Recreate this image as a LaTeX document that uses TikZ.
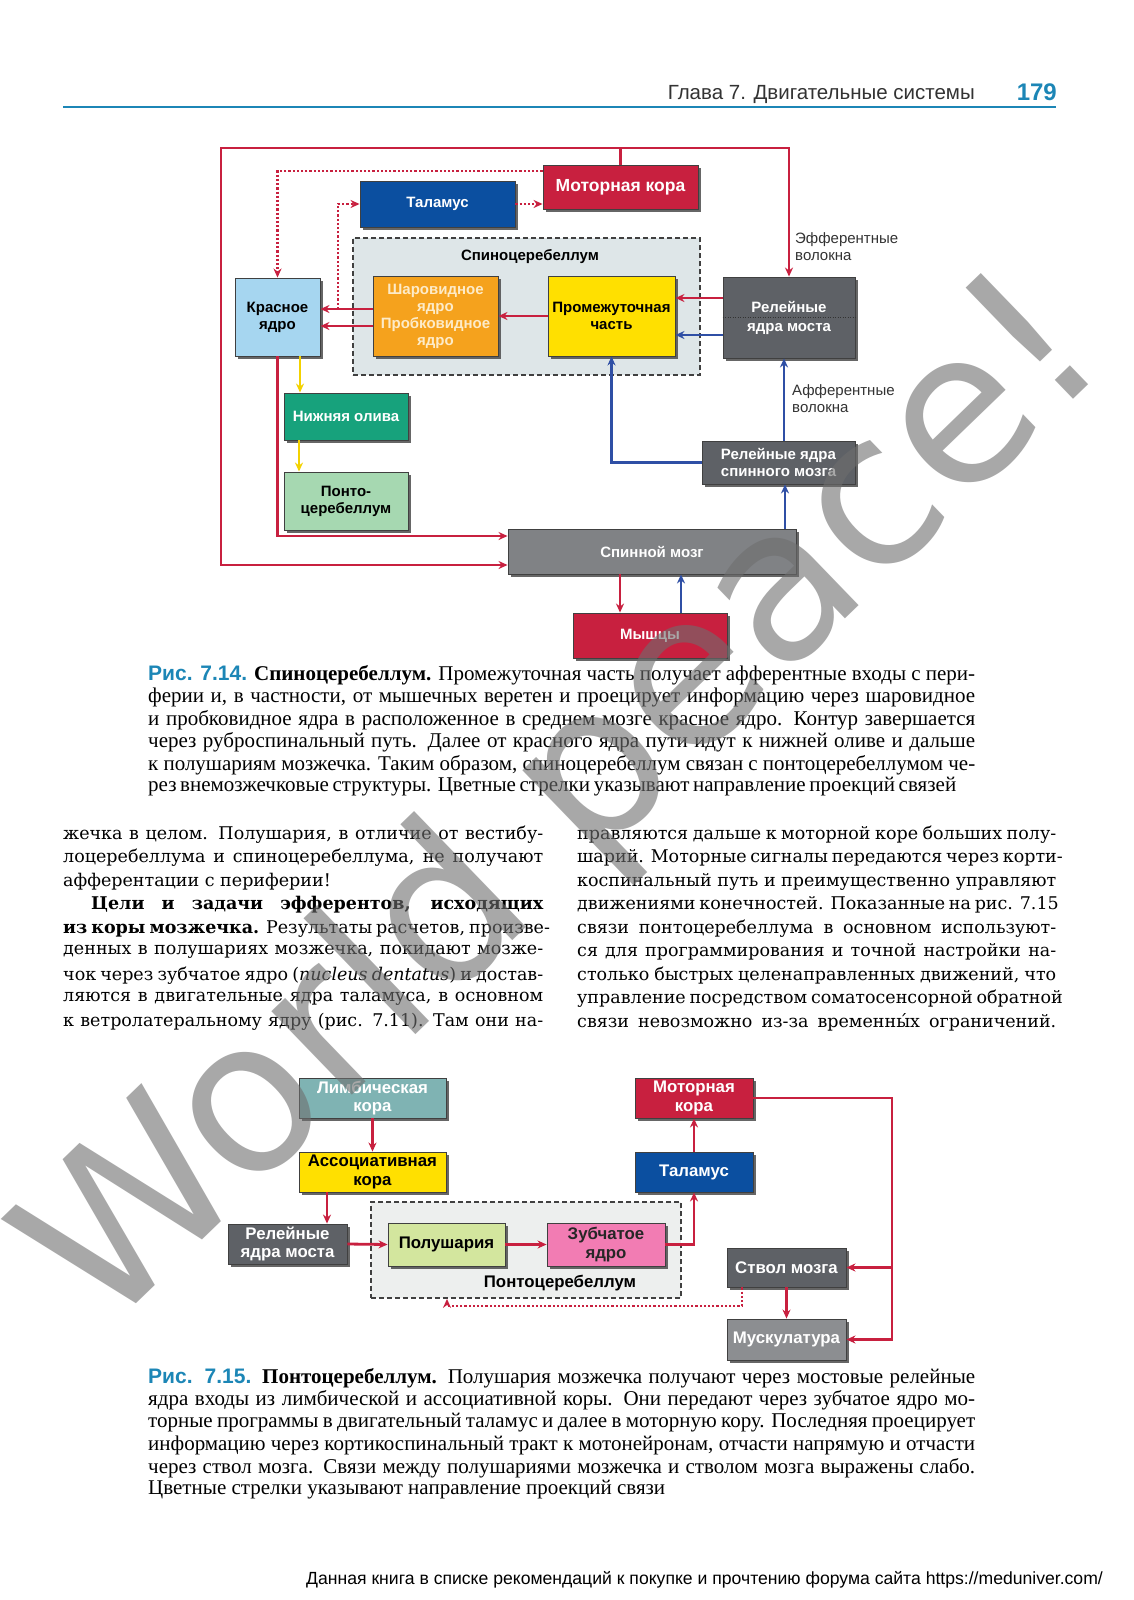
\documentclass[tikz,border=0pt]{standalone}
\usepackage{fontspec}
\setmainfont{Liberation Serif}
\newfontfamily\capfont{Liberation Serif}
\newfontfamily\bodyfont{DejaVu Serif}
\newfontfamily\sansf{Liberation Sans}
\newfontfamily\wmfont{DejaVu Sans}
\usetikzlibrary{arrows.meta,shadows}
\definecolor{cRed}{HTML}{C8203F}
\definecolor{cBlue}{HTML}{0B4FA0}
\definecolor{aBlue}{HTML}{2F4FA5}
\definecolor{cLBlue}{HTML}{A6D6F0}
\definecolor{cOrange}{HTML}{F5A21D}
\definecolor{cYellow}{HTML}{FFE000}
\definecolor{cDGray}{HTML}{5E6166}
\definecolor{cMGray}{HTML}{808285}
\definecolor{cLGray}{HTML}{8C8E91}
\definecolor{cTeal}{HTML}{17A27C}
\definecolor{cLGreen}{HTML}{A6D8B1}
\definecolor{cLim}{HTML}{7FB3B3}
\definecolor{cPol}{HTML}{D3E69E}
\definecolor{cPink}{HTML}{F27CB3}
\definecolor{cBoxA}{HTML}{DEE6E8}
\definecolor{cBoxB}{HTML}{EDEFEE}
\definecolor{cHead}{HTML}{1C86B6}
\definecolor{aYellow}{HTML}{F3D200}
\definecolor{cCream}{HTML}{FDEBC8}
\definecolor{wmgray}{RGB}{110,110,110}
\newcommand\capsz{\capfont\fontsize{21}{22}\selectfont}
\newcommand\bodysz{\bodyfont\fontsize{17.5}{23}\selectfont}
\newcommand\boxsz{\sansf\bfseries\fontsize{15}{17}\selectfont}
\newcommand\boxszb{\sansf\bfseries\fontsize{16.8}{18.5}\selectfont}
\begin{document}
\begin{tikzpicture}[x=1pt,y=-1pt,
  blk/.style={draw=black!75, line width=0.9pt, inner sep=0pt, align=center, font=\boxsz,
    drop shadow={shadow xshift=2.5pt, shadow yshift=-2.5pt, fill=black!70, opacity=0.85}},
  blkb/.style={blk, font=\boxszb},
  rl/.style={draw=cRed, line width=2.8pt},
  bl/.style={draw=aBlue, line width=2.8pt},
  yl/.style={draw=aYellow, line width=2.8pt},
  arr/.style={-{Stealth[length=9pt,width=8pt]}},
  dotl/.style={draw=cRed, line width=2.6pt, dash pattern=on 2.2pt off 2pt},
  grp/.style={draw=black!75, line width=1.8pt, dash pattern=on 5pt off 3pt, inner sep=0pt},
  capl/.style={anchor=west, inner sep=0pt, font=\capsz},
  bodl/.style={anchor=west, inner sep=0pt, font=\bodysz},
  lbl/.style={anchor=north west, inner sep=0pt, align=left, text=black!80, font=\sansf\fontsize{15}{17}\selectfont}
]
\useasboundingbox (0,0) rectangle (1133,1600);
\fill[white] (0,0) rectangle (1133,1600);

% ---------- header ----------
\node[anchor=east, inner sep=0pt, text=black!80, font=\sansf\fontsize{20.5}{21}\selectfont] (head) at (975,94) {Глава 7. Двигательные системы};
\node[anchor=east, inner sep=0pt, text=cHead, font=\sansf\bfseries\fontsize{24}{24}\selectfont] (pnum) at (1057,92) {179};
\draw[cHead, line width=1.2pt] (63,107) -- (1056,107);

% ---------- figure 7.14 ----------
\node[grp, fill=cBoxA, minimum width=347pt, minimum height=137pt] (spino) at (526.5,306.5) {};
\node[inner sep=0pt, font=\boxsz] (spinot) at (530,257) {Спиноцеребеллум};

\node[blk, fill=cRed, text=white, minimum width=155pt, minimum height=44pt, font=\sansf\bfseries\fontsize{17.5}{19}\selectfont] (MK) at (620.5,187) {Моторная кора};
\node[blk, fill=cBlue, text=white, minimum width=155pt, minimum height=46pt] (TH) at (437.5,204) {Таламус};
\node[blk, fill=cLBlue, text=black, minimum width=85pt, minimum height=78pt] (KR) at (277.5,317) {Красное\\ядро};
\node[blk, fill=cOrange, text=cCream, minimum width=125pt, minimum height=80pt] (SH) at (435.5,316) {Шаровидное\\ядро\\Пробковидное\\ядро};
\node[blk, fill=cYellow, text=black, minimum width=127pt, minimum height=80pt] (PR) at (611.5,316) {Промежуточная\\часть};
\node[blk, fill=cDGray, text=white, minimum width=132pt, minimum height=81pt] (RP) at (789,317.5) {Релейные\\[2pt]ядра моста};
\draw[black!80, line width=1pt, dash pattern=on 1pt off 1.5pt] (RP.west) -- (RP.east);
\node[blk, fill=cTeal, text=white, minimum width=124pt, minimum height=47pt] (NO) at (346,416.5) {Нижняя олива};
\node[blk, fill=cLGreen, text=black, minimum width=124pt, minimum height=58pt] (PC) at (346,501) {Понто-\\церебеллум};
\node[blk, fill=cDGray, text=white, minimum width=153pt, minimum height=43pt] (RSM) at (778.5,462.5) {Релейные ядра\\спинного мозга};
\node[blk, fill=cMGray, text=white, minimum width=288pt, minimum height=45pt] (SM) at (652,551.5) {Спинной мозг};
\node[blk, fill=cRed, text=white, minimum width=154pt, minimum height=45pt] (MY) at (650,635.5) {Мышцы};

\node[lbl] (eff) at (795,232) {Эфферентные\\волокна};
\node[lbl] (aff) at (792,384) {Афферентные\\волокна};

\coordinate (topL) at (221,148);
\draw[rl, arr] (MK.north) -- (MK.north |- topL) -| (RP.north);
\draw[rl, arr] (MK.north |- topL) -- (topL) |- (SM.west |- 0,565);
\draw[rl, arr] (KR.south) |- (SM.west |- 0,536);
\draw[yl, arr] (KR.south -| 300,0) -- (NO.north -| 300,0);
\draw[yl, arr] (NO.south -| 299,0) -- (PC.north -| 299,0);
\draw[rl, arr] (SH.west |- 0,309) -- (KR.east |- 0,309);
\draw[rl, arr] (SH.west |- 0,326) -- (KR.east |- 0,326);
\coordinate (dj) at (338,309);
\draw[dotl, arr] (dj) |- (TH.west);
\draw[dotl, arr] (TH.east) -- (MK.west |- TH.east);
\draw[dotl, arr] (MK.west |- 0,171) -| (KR.north);
\draw[rl, arr] (PR.west) -- (SH.east);
\draw[rl, arr] (RP.west |- 0,298) -- (PR.east |- 0,298);
\draw[bl, arr] (RP.west |- 0,335) -- (PR.east |- 0,335);
\draw[bl, arr] (RSM.north -| 784,0) -- (RP.south -| 784,0);
\draw[bl, arr] (RSM.west) -| (PR.south);
\draw[bl, arr] (SM.north -| 785,0) -- (RSM.south -| 785,0);
\draw[rl, arr] (SM.south -| 620,0) -- (MY.north -| 620,0);
\draw[bl, arr] (MY.north -| 681,0) -- (SM.south -| 681,0);

% ---------- caption 7.14 ----------
\node[capl] (c1a) at (148,675) {\makebox[827pt][s]{{\sansf\bfseries\color{cHead}Рис. 7.14.} {\bfseries Спиноцеребеллум.} Промежуточная часть получает афферентные входы с пери-}};
\node[capl] (c1b) at (148,697) {\makebox[827pt][s]{ферии и, в частности, от мышечных веретен и проецирует информацию через шаровидное}};
\node[capl] (c1c) at (148,720) {\makebox[827pt][s]{и пробковидное ядра в расположенное в среднем мозге красное ядро. Контур завершается}};
\node[capl] (c1d) at (148,742) {\makebox[827pt][s]{через руброспинальный путь. Далее от красного ядра пути идут к нижней оливе и дальше}};
\node[capl] (c1e) at (148,765) {\makebox[827pt][s]{к полушариям мозжечка. Таким образом, спиноцеребеллум связан с понтоцеребеллумом че-}};
\node[capl] (c1f) at (148,787) {\makebox[808pt][s]{рез внемозжечковые структуры. Цветные стрелки указывают направление проекций связей}};

% ---------- body text ----------
\node[bodl] (l1) at (63,835) {\makebox[480pt][s]{жечка в целом. Полушария, в отличие от вестибу-}};
\node[bodl] (l2) at (63,858) {\makebox[480pt][s]{лоцеребеллума и спиноцеребеллума, не получают}};
\node[bodl] (l3) at (63,882) {афферентации с периферии!};
\node[bodl] (l4) at (91,905) {\makebox[452pt][s]{\bfseries Цели и задачи эфферентов, исходящих}};
\node[bodl] (l5) at (63,929) {\makebox[480pt][s]{{\bfseries из коры мозжечка.} Результаты расчетов, произве-}};
\node[bodl] (l6) at (63,952) {\makebox[480pt][s]{денных в полушариях мозжечка, покидают мозже-}};
\node[bodl] (l7) at (63,976) {\makebox[480pt][s]{чок через зубчатое ядро ({\itshape nucleus dentatus}) и достав-}};
\node[bodl] (l8) at (63,999) {\makebox[480pt][s]{ляются в двигательные ядра таламуса, в основном}};
\node[bodl] (l9) at (63,1022) {\makebox[480pt][s]{к ветролатеральному ядру (рис. 7.11). Там они на-}};

\node[bodl] (r1) at (577,835) {\makebox[479pt][s]{правляются дальше к моторной коре больших полу-}};
\node[bodl] (r2) at (577,858) {\makebox[479pt][s]{шарий. Моторные сигналы передаются через корти-}};
\node[bodl] (r3) at (577,882) {\makebox[479pt][s]{коспинальный путь и преимущественно управляют}};
\node[bodl] (r4) at (577,905) {\makebox[479pt][s]{движениями конечностей. Показанные на рис. 7.15}};
\node[bodl] (r5) at (577,929) {\makebox[479pt][s]{связи понтоцеребеллума в основном используют-}};
\node[bodl] (r6) at (577,952) {\makebox[479pt][s]{ся для программирования и точной настройки на-}};
\node[bodl] (r7) at (577,976) {\makebox[479pt][s]{столько быстрых целенаправленных движений, что}};
\node[bodl] (r8) at (577,999) {\makebox[479pt][s]{управление посредством соматосенсорной обратной}};
\node[bodl] (r9) at (577,1022) {\makebox[479pt][s]{связи невозможно из-за временны́х ограничений.}};

% ---------- figure 7.15 ----------
\node[grp, fill=cBoxB, minimum width=310pt, minimum height=96pt] (ponto) at (526,1250) {};
\node[inner sep=0pt, font=\boxszb] (pontot) at (560,1283) {Понтоцеребеллум};

\node[blkb, fill=cLim, text=white, minimum width=147pt, minimum height=40pt] (LIM) at (372.5,1098) {Лимбическая\\кора};
\node[blkb, fill=cYellow, text=black, minimum width=147pt, minimum height=40pt] (ASS) at (372.5,1172) {Ассоциативная\\кора};
\node[blkb, fill=cDGray, text=white, minimum width=119pt, minimum height=40pt] (RJM) at (287.5,1244) {Релейные\\ядра моста};
\node[blkb, fill=cPol, text=black, minimum width=117pt, minimum height=43pt] (POL) at (446.5,1244.5) {Полушария};
\node[blkb, fill=cPink, text=black!85, minimum width=118pt, minimum height=43pt] (ZUB) at (606,1244.5) {Зубчатое\\ядро};
\node[blkb, fill=cRed, text=white, minimum width=118pt, minimum height=40pt] (MK2) at (694,1098) {Моторная\\кора};
\node[blkb, fill=cBlue, text=white, minimum width=118pt, minimum height=40pt] (TH2) at (694,1172) {Таламус};
\node[blkb, fill=cDGray, text=white, minimum width=119pt, minimum height=39pt] (STV) at (786.5,1267.5) {Ствол мозга};
\node[blkb, fill=cLGray, text=white, minimum width=119pt, minimum height=41pt] (MUS) at (786.5,1339.5) {Мускулатура};

\draw[rl, arr] (LIM.south) -- (ASS.north);
\draw[rl, arr] (ASS.south -| 327,0) -- (RJM.north -| 327,0);
\draw[rl, arr] (RJM.east) -- (POL.west);
\draw[rl, arr] (POL.east) -- (ZUB.west);
\draw[rl, arr] (ZUB.east) -| (TH2.south);
\draw[rl, arr] (TH2.north) -- (MK2.south);
\coordinate (rr) at (892,1339.5);
\draw[rl, arr] (MK2.east) -| (rr) -- (MUS.east);
\draw[rl, arr] (STV.east -| rr) -- (STV.east);
\draw[rl, arr] (STV.south) -- (MUS.north);
\draw[dotl, arr] (STV.south -| 742,0) |- (447,1306) -- (ponto.south -| 447,0);

% ---------- caption 7.15 ----------
\node[capl] (c2a) at (148,1378) {\makebox[827pt][s]{{\sansf\bfseries\color{cHead}Рис. 7.15.} {\bfseries Понтоцеребеллум.} Полушария мозжечка получают через мостовые релейные}};
\node[capl] (c2b) at (148,1400) {\makebox[827pt][s]{ядра входы из лимбической и ассоциативной коры. Они передают через зубчатое ядро мо-}};
\node[capl] (c2c) at (148,1423) {\makebox[827pt][s]{торные программы в двигательный таламус и далее в моторную кору. Последняя проецирует}};
\node[capl] (c2d) at (148,1445) {\makebox[827pt][s]{информацию через кортикоспинальный тракт к мотонейронам, отчасти напрямую и отчасти}};
\node[capl] (c2e) at (148,1468) {\makebox[827pt][s]{через ствол мозга. Связи между полушариями мозжечка и стволом мозга выражены слабо.}};
\node[capl] (c2f) at (148,1490) {Цветные стрелки указывают направление проекций связи};

% ---------- footer ----------
\node[anchor=west, inner sep=0pt, font=\sansf\fontsize{17.6}{18}\selectfont] (foot) at (306,1580) {Данная книга в списке рекомендаций к покупке и прочтению форума сайта https://meduniver.com/};

% ---------- watermark ----------
\node[anchor=base east, inner sep=0pt, rotate=44, text=wmgray, opacity=0.6, font=\wmfont\fontsize{212}{212}\selectfont] (wm) at (1112,362) {World peace!};
\end{tikzpicture}
\end{document}
